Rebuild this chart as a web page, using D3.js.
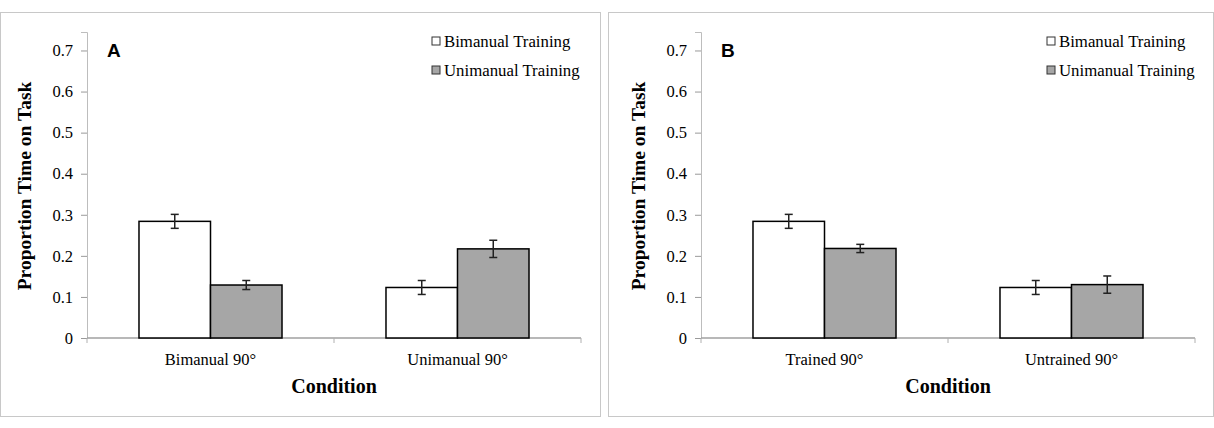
<!DOCTYPE html>
<html>
<head>
<meta charset="utf-8">
<script src="https://cdn.jsdelivr.net/npm/d3@7"></script>
<style>
  body { margin: 0; background: #fff; }
  svg { display: block; }
  text { font-family: "Liberation Serif", "Times New Roman", serif; fill: #000; }
</style>
</head>
<body>
<svg id="chart" width="1214" height="428"></svg>
<script>
// Data
const seriesNames = ["Bimanual Training", "Unimanual Training"];
const categoriesA = ["Bimanual 90°", "Unimanual 90°"];
const categoriesB = ["Trained 90°", "Untrained 90°"];
const bimanualA = [0.284, 0.123];
const unimanualA = [0.129, 0.217];
const bimanualErrA = [0.017, 0.017];
const unimanualErrA = [0.011, 0.021];
const bimanualB = [0.284, 0.123];
const unimanualB = [0.218, 0.130];
const bimanualErrB = [0.017, 0.017];
const unimanualErrB = [0.010, 0.021];
const yTicks = [0, 0.1, 0.2, 0.3, 0.4, 0.5, 0.6, 0.7];
const yMax = 0.745;

const colors = { "Bimanual Training": "#ffffff", "Unimanual Training": "#a6a6a6" };
const svg = d3.select("#chart");

function drawPanel(cfg) {
  const g = svg.append("g").attr("transform", `translate(${cfg.left},0)`);

  // panel frame
  g.append("rect")
    .attr("x", 0.5).attr("y", 12.5)
    .attr("width", cfg.width - 1).attr("height", 404)
    .attr("fill", "none").attr("stroke", "#c8c8c8");

  const plotLeft = cfg.axisX, plotRight = cfg.axisX + 494;
  const y = d3.scaleLinear().domain([0, yMax]).range([338, 32]);
  const x0 = d3.scaleBand().domain(cfg.categories).range([plotLeft, plotRight]);
  const x1 = d3.scaleBand().domain(seriesNames)
    .range([0, x0.bandwidth()]).paddingInner(0).paddingOuter(0.727);

  // y axis
  const yAxis = d3.axisLeft(y).tickValues(yTicks).tickSize(6).tickPadding(8)
    .tickFormat(d => d === 0 ? "0" : d3.format(".1f")(d));
  const ya = g.append("g").attr("transform", `translate(${plotLeft},0)`).call(yAxis);
  ya.select(".domain").attr("stroke", "#bdbdbd");
  ya.selectAll(".tick line").attr("stroke", "#9a9a9a");
  ya.selectAll(".tick text")
    .style("font-family", "Liberation Serif").style("font-size", "16.5px").attr("fill", "#000");

  // x axis
  const xa = g.append("g").attr("transform", "translate(0,338)");
  xa.append("line")
    .attr("x1", plotLeft).attr("x2", plotRight)
    .attr("stroke", "#a0a0a0").attr("stroke-width", 1.5);
  const bounds = [plotLeft].concat(cfg.categories.map(c => x0(c) + x0.bandwidth()));
  xa.selectAll(".xtick").data(bounds).join("line")
    .attr("x1", d => d).attr("x2", d => d)
    .attr("y1", 0).attr("y2", 5)
    .attr("stroke", "#b0b0b0");
  xa.selectAll(".xlabel").data(cfg.categories).join("text")
    .attr("x", d => x0(d) + x0.bandwidth() / 2)
    .attr("y", 27)
    .attr("text-anchor", "middle")
    .style("font-size", "16.5px")
    .text(d => d);

  // bars
  const rows = cfg.categories.map((c, i) => ({
    cat: c,
    vals: [
      { s: seriesNames[0], v: cfg.bim[i], e: cfg.bimErr[i] },
      { s: seriesNames[1], v: cfg.uni[i], e: cfg.uniErr[i] }
    ]
  }));
  const grp = g.selectAll(".grp").data(rows).join("g")
    .attr("transform", d => `translate(${x0(d.cat)},0)`);
  grp.selectAll("rect").data(d => d.vals).join("rect")
    .attr("x", d => x1(d.s))
    .attr("y", d => y(d.v))
    .attr("width", x1.bandwidth())
    .attr("height", d => y(0) - y(d.v))
    .attr("fill", d => colors[d.s])
    .attr("stroke", "#000").attr("stroke-width", 1.5);

  // error bars
  const eb = grp.selectAll(".err").data(d => d.vals).join("g")
    .attr("stroke", "#222").attr("stroke-width", 1.5);
  eb.append("line")
    .attr("x1", d => x1(d.s) + x1.bandwidth() / 2)
    .attr("x2", d => x1(d.s) + x1.bandwidth() / 2)
    .attr("y1", d => y(d.v + d.e)).attr("y2", d => y(d.v - d.e));
  [1, -1].forEach(sign => {
    eb.append("line")
      .attr("x1", d => x1(d.s) + x1.bandwidth() / 2 - 4)
      .attr("x2", d => x1(d.s) + x1.bandwidth() / 2 + 4)
      .attr("y1", d => y(d.v + sign * d.e)).attr("y2", d => y(d.v + sign * d.e));
  });

  // panel letter
  g.append("text")
    .attr("x", plotLeft + 20).attr("y", 57)
    .style("font-family", "Liberation Sans, Arial, sans-serif")
    .style("font-weight", "bold").style("font-size", "19px")
    .text(cfg.letter);

  // legend
  const lg = g.selectAll(".legend").data(seriesNames).join("g")
    .attr("transform", (d, i) => `translate(${cfg.legendX},${42 + i * 29})`);
  lg.append("rect")
    .attr("x", 0).attr("y", -5).attr("width", 8).attr("height", 8)
    .attr("fill", d => colors[d]).attr("stroke", "#333").attr("stroke-width", 1);
  lg.append("text")
    .attr("x", 12).attr("y", 5)
    .style("font-size", "16.8px")
    .text(d => d);

  // axis titles
  g.append("text")
    .attr("transform", `translate(${cfg.axisX - 56},186) rotate(-90)`)
    .attr("text-anchor", "middle")
    .style("font-size", "19.5px").style("font-weight", "bold")
    .text("Proportion Time on Task");
  g.append("text")
    .attr("x", (plotLeft + plotRight) / 2).attr("y", 393)
    .attr("text-anchor", "middle")
    .style("font-size", "20px").style("font-weight", "bold")
    .text("Condition");
}

drawPanel({
  left: 0, width: 601, axisX: 87, letter: "A", legendX: 432,
  categories: categoriesA, bim: bimanualA, uni: unimanualA,
  bimErr: bimanualErrA, uniErr: unimanualErrA
});
drawPanel({
  left: 608, width: 606, axisX: 93, letter: "B", legendX: 439,
  categories: categoriesB, bim: bimanualB, uni: unimanualB,
  bimErr: bimanualErrB, uniErr: unimanualErrB
});
</script>
</body>
</html>
